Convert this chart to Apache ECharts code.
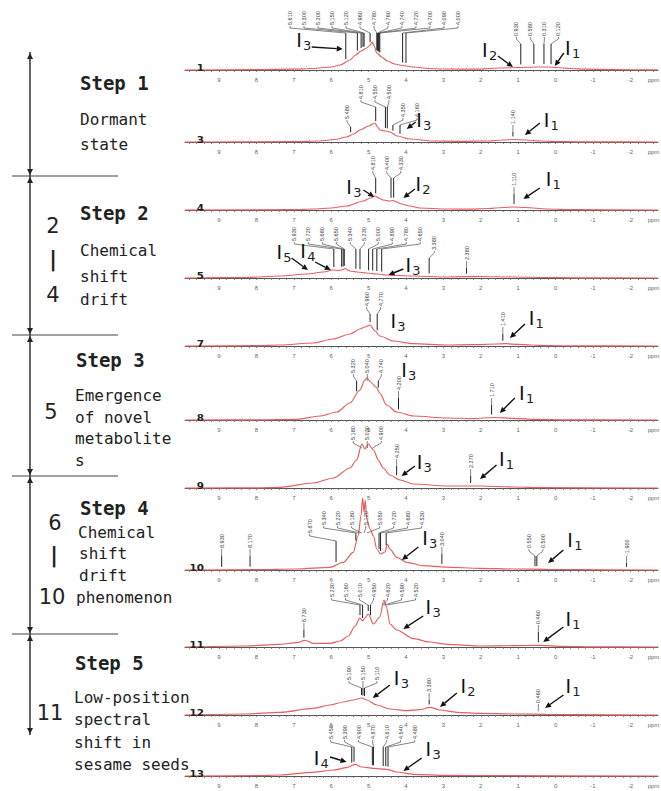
<!DOCTYPE html>
<html><head><meta charset="utf-8">
<script src="https://cdn.jsdelivr.net/npm/echarts@6/dist/echarts.min.js"></script>
<style>html,body{margin:0;padding:0;background:#fff;}#c{width:661px;height:791px;}</style>
</head><body><div id="c"></div>
<script>
// ---------------- DATA ----------------
const spectrumIds = ['1','3','4','5','7','8','9','10','11','12','13'];
const tickLabels = [9,8,7,6,5,4,3,2,1,0,-1,-2];

// curves: [ppm, intensity]
const curve1 = [[9.91,0],[8.0,0.3],[7.0,0.8],[6.5,1.5],[6.0,3],[5.76,5],[5.5,10],[5.35,15],[5.2,19],[5.05,22],[4.96,25],[4.91,28],[4.85,24],[4.78,17],[4.65,13],[4.5,9],[4.3,6],[4.1,4.5],[3.8,3],[3.4,1.5],[3.0,1],[2.0,0.8],[1.8,1.5],[1.5,2],[1.0,2.5],[0.5,3],[0.2,3],[0,2.5],[-0.4,1.5],[-0.8,0.8],[-1.5,0.3],[-2.74,0.2]];
const curve3 = [[9.91,0],[7,0.3],[6.3,1],[5.9,2.5],[5.59,5],[5.4,8],[5.23,12],[5.0,16],[4.83,19],[4.76,15],[4.7,12],[4.55,11],[4.43,10],[4.24,6],[3.9,3],[3.28,1],[2.5,0.6],[1.8,1],[1.4,2],[1.14,2.5],[0.8,2],[0.42,1],[-0.2,0.3],[-1,0.1],[-2.74,0]];
const curve4 = [[9.91,0],[7,0.3],[6.49,1],[6.0,2],[5.59,4],[5.14,9],[4.95,12],[4.83,14],[4.7,11.5],[4.61,10],[4.45,9],[4.34,9.5],[4.25,8],[4.12,6],[3.9,4],[3.63,2],[2.91,1],[2.3,0.8],[1.8,1.5],[1.4,2.5],[1.14,3],[0.8,2.5],[0.23,1],[-0.5,0.3],[-2.74,0]];
const curve5 = [[9.91,0],[8.26,0.5],[7.37,2],[6.65,4],[6.2,6],[5.95,8],[5.8,7.5],[5.68,8.5],[5.63,9.5],[5.5,7],[5.3,6],[5.05,5],[4.8,4],[4.52,3],[3.81,2],[2.91,1],[2.4,1.3],[2.02,1.5],[1.14,1],[0.3,0.5],[-0.5,0.2],[-2.74,0]];
const curve7 = [[9.91,0],[8,0.3],[7.37,1],[6.49,3],[5.95,7],[5.5,12],[5.23,17],[5.1,19],[4.96,21],[4.83,15],[4.7,10],[4.34,5],[3.8,2.3],[2.91,1],[2.2,1.3],[1.57,2],[1.35,2.3],[1.0,1.6],[0.68,1],[0.2,0.4],[-0.5,0.1],[-2.74,0]];
const curve8 = [[9.91,0],[8,0.2],[6.92,0.7],[6.3,4],[5.85,8],[5.5,17],[5.23,30],[5.1,40],[5.04,42],[4.95,38],[4.8,33],[4.7,27],[4.52,15],[4.25,8],[3.8,4],[2.91,2],[2.2,1.5],[1.67,2.5],[1.14,1.7],[0.5,0.7],[-0.3,0.2],[-2.74,0]];
const curve9 = [[9.91,0],[8,0.2],[7.37,0.7],[6.48,5],[5.94,10],[5.5,20],[5.32,28],[5.18,44],[5.10,39],[5.01,44],[4.87,38],[4.74,28],[4.61,20],[4.43,13],[4.16,8],[3.8,4],[2.91,2],[2.02,2],[1.13,1],[0.3,0.3],[-2.74,0]];
const curve10 = [[9.91,0],[8,0.3],[6.92,1],[6.03,2.7],[5.68,7.7],[5.41,17.7],[5.28,34],[5.2,55],[5.16,72],[5.12,58],[5.09,70],[5.05,51],[4.96,41],[4.87,34],[4.78,21],[4.68,16],[4.56,18],[4.50,26],[4.43,21],[4.25,12.7],[3.98,7.7],[3.54,4.3],[2.91,2.8],[2.02,1.7],[1.14,1],[0.24,0.7],[-0.5,0.3],[-2.74,0]];
const curve11 = [[9.91,0],[8.26,1],[7.37,2.7],[6.92,4.3],[6.7,6.7],[6.48,3.7],[6.03,3.7],[5.76,6],[5.54,11],[5.36,21],[5.23,29],[5.16,26],[5.1,29],[5.01,33],[4.87,23],[4.7,30],[4.59,47],[4.52,40],[4.43,23],[4.25,17],[3.8,8.3],[3.36,5],[2.91,2.7],[2.02,1],[1.14,1.3],[0.42,1.7],[-0.2,0.7],[-1,0.2],[-2.74,0]];
const curve12 = [[9.91,0],[8.26,1],[7.37,2.7],[6.48,6.7],[6.03,10],[5.68,13],[5.41,15],[5.18,17],[5.05,15],[4.78,10],[4.43,6],[3.98,4.3],[3.63,5.3],[3.36,7.7],[3.09,5],[2.64,2.7],[2.02,1.7],[1.14,1],[0.24,0.7],[-0.5,0.3],[-2.74,0]];
const curve13 = [[9.91,0],[8,0.3],[7.37,1],[6.48,3.7],[5.94,6],[5.59,8.3],[5.36,11.7],[5.18,9],[4.87,7.7],[4.52,6.7],[4.25,4],[3.8,1.7],[2.91,0.7],[1.5,0.3],[-2.74,0]];

// peak picks (ppm)
const peaks1 = [5.61,5.30,5.20,5.15,5.12,4.96,4.78,4.76,4.74,4.72,4.70,4.09,4.00,0.93,0.58,0.31,0.12];
const peaks3 = [5.48,4.81,4.55,4.50,4.35,4.16,1.14];
const peaks4 = [4.81,4.40,4.33,1.11];
const peaks5 = [5.93,5.72,5.68,5.65,5.34,5.23,5.00,4.89,4.78,4.65,3.38,2.38];
const peaks7 = [4.96,4.77,1.41];
const peaks8 = [5.32,5.04,4.74,4.20,1.71];
const peaks9 = [5.18,5.03,4.90,4.25,2.27];
const peaks10 = [8.93,8.17,5.87,5.34,5.22,5.18,5.12,5.05,4.72,4.68,4.53,3.04,0.55,0.50,-1.90];
const peaks11 = [6.73,5.23,5.16,5.01,4.95,4.62,4.59,4.52,0.46];
const peaks12 = [5.19,5.15,5.11,3.38,0.46];
const peaks13 = [5.45,5.39,4.90,4.87,4.61,4.54,4.48];

// callouts: [subscript, ppm, height, arrowFromPpm, arrowFromH, arrowToPpm, arrowToH]
const callouts1 = [['3',6.86,30,6.52,23,5.69,21],['2',1.89,20,1.54,14,1.14,3],['1',-0.33,22,-0.22,17,0.02,4]];
const callouts3 = [['3',3.65,22,3.74,20,3.98,13],['1',0.24,22,0.42,19,0.82,7]];
const callouts4 = [['3',5.52,23,5.14,20,4.85,13],['2',3.67,26,3.76,21,4.07,12],['1',0.19,31,0.42,22,0.86,11]];
const callouts5 = [['5',7.39,26,7.06,20,6.62,8],['4',6.75,27,6.43,16,6.01,8],['3',3.94,13,4.07,9,4.47,3]];
const callouts7 = [['3',4.34,25],['1',0.64,28,0.82,22,1.22,8]];
const callouts8 = [['3',4.05,50],['1',0.9,27,1.09,22,1.49,7]];
const callouts9 = [['3',3.64,26,3.76,22,4.12,12],['1',1.44,29,1.58,23,2.02,9]];
const callouts10 = [['3',3.49,32,3.67,23,4.11,10],['1',-0.39,30,-0.21,20,0.2,7]];
const callouts11 = [['3',3.4,40,3.54,31,4.07,18],['1',-0.34,28,-0.21,20,0.33,5]];
const callouts12 = [['3',4.25,37,4.43,30,4.89,17],['2',2.47,29,2.64,22,3.09,8],['1',-0.34,29,-0.21,20,0.28,7]];
const callouts13 = [['4',6.39,18,6.03,19,5.59,14],['3',3.4,27,3.58,18,4.07,5]];

const curves = [curve1,curve3,curve4,curve5,curve7,curve8,curve9,curve10,curve11,curve12,curve13];
const peaks = [peaks1,peaks3,peaks4,peaks5,peaks7,peaks8,peaks9,peaks10,peaks11,peaks12,peaks13];
const callouts = [callouts1,callouts3,callouts4,callouts5,callouts7,callouts8,callouts9,callouts10,callouts11,callouts12,callouts13];

// ---------------- LAYOUT ----------------
const axisY = [75,147,215,283,351,425,493,575,652,720,781];
// label rows: [ppmHigh, ppmLow, text bottom height]
const labelRows = [
  [[6,3.5,45],[1.5,-0.5,34]],
  [[5.6,5.3,23],[4.9,4.45,43],[4.4,4.0,25],[1.5,0.8,18]],
  [[5,4.2,40],[1.4,0.8,24]],
  [[6.1,4.5,37],[3.6,3.0,28],[2.6,2.0,18]],
  [[5.1,4.6,40],[1.6,1.2,20]],
  [[5.5,4.6,47],[4.4,4.0,30],[1.9,1.5,23]],
  [[5.3,4.8,48],[4.4,4.1,30],[2.5,2.0,20]],
  [[9.2,7.9,22],[6.0,5.6,37],[5.5,4.4,45],[3.2,2.9,24],[0.7,0.4,22],[-1.7,-2.1,15]],
  [[6.9,6.5,25],[5.4,4.4,50],[0.7,0.2,23]],
  [[5.4,5.0,35],[3.6,3.2,23],[0.7,0.2,12]],
  [[5.6,4.4,37]]
];
const XMIN = -2.74, XMAX = 9.91;
const RED = '#e5605f';
const minorTicks = [];
for (let v = 98; v >= -26; v -= 2) minorTicks.push(v / 10);
const labelVals = tickLabels.concat([-2.62]);

function interp(curve, p) {
  for (let k = 0; k < curve.length - 1; k++) {
    const a = curve[k], b = curve[k+1];
    if (p <= a[0] && p >= b[0]) {
      const t = (a[0] - p) / (a[0] - b[0]);
      return a[1] + t * (b[1] - a[1]);
    }
  }
  return 0;
}

function computeLayout(api, curve, pk, rows) {
  const items = pk.map((p, i) => {
    const h = interp(curve, p);
    let tb = h + 12;
    for (const r of rows) { if (p <= r[0] && p >= r[1]) { tb = r[2]; break; } }
    const pc = api.coord([p, h]);
    const pt = api.coord([p, tb]);
    return {i, p, px: pc[0], yc: pc[1], yT: pt[1]};
  });
  const sorted = items.slice().sort((a, b) => a.px - b.px);
  const S = 14;
  let clusters = sorted.map(it => ({members: [it], sum: it.px}));
  const start = c => c.sum / c.members.length - (c.members.length - 1) * S / 2;
  let merged = true;
  while (merged) {
    merged = false;
    for (let k = 0; k < clusters.length - 1; k++) {
      const a = clusters[k], b = clusters[k+1];
      const aEnd = start(a) + (a.members.length - 1) * S;
      if (start(b) - aEnd < S) {
        clusters.splice(k, 2, {members: a.members.concat(b.members), sum: a.sum + b.sum});
        merged = true; break;
      }
    }
  }
  const out = [];
  clusters.forEach(c => { const s = start(c); c.members.forEach((m, j) => { m.lx = s + j * S; out[m.i] = m; }); });
  return out;
}

const grids = [], xAxes = [], yAxes = [], series = [];
spectrumIds.forEach((id, si) => {
  const bottomY = axisY[si];
  const H = Math.min(95, bottomY - 2);
  grids.push({left: 185, width: 473, top: bottomY - H, height: H, containLabel: false, outerBoundsMode: 'none'});
  xAxes.push({
    type: 'value', gridIndex: si, min: XMIN, max: XMAX, inverse: true,
    axisLine: {show: true, lineStyle: {color: '#555', width: 1}},
    axisTick: {show: true, customValues: minorTicks, length: 2, lineStyle: {color: '#666', width: 0.8}},
    axisLabel: {show: true, customValues: labelVals, fontSize: 6, color: '#666', margin: 2, fontFamily: 'Liberation Sans',
      formatter: v => (Math.abs(v + 2.62) < 0.01 ? 'ppm' : String(Math.round(v)))},
    splitLine: {show: false}
  });
  yAxes.push({type: 'value', gridIndex: si, min: -5, max: H - 5, show: false});

  series.push({
    type: 'line', xAxisIndex: si, yAxisIndex: si, data: curves[si], showSymbol: false,
    smooth: 0.3, smoothMonotone: 'x', silent: true, z: 3,
    lineStyle: {color: RED, width: 1.2}
  });

  let cache = null;
  const curve = curves[si], pk = peaks[si], rows = labelRows[si];
  series.push({
    type: 'custom', xAxisIndex: si, yAxisIndex: si, clip: false, silent: true, z: 5,
    data: pk.map(p => [p, 0]),
    renderItem(params, api) {
      if (params.dataIndex === 0 || !cache) cache = computeLayout(api, curve, pk, rows);
      const L = cache[params.dataIndex];
      const yT = L.yT, lx = L.lx, px = L.px;
      const ch = [
        {type: 'text', x: lx, y: yT, rotation: Math.PI / 2,
          style: {text: L.p.toFixed(3), fill: '#3a3a3a', fontSize: 5.5, fontFamily: 'Liberation Sans', align: 'left', verticalAlign: 'middle'}},
        {type: 'polyline', shape: {points: [[lx, yT + 1], [lx, yT + 3], [px, yT + 8]]}, style: {stroke: '#666', lineWidth: 0.8, fill: null}}
      ];
      if (L.yc - 3 > yT + 8) ch.push({type: 'line', shape: {x1: px, y1: yT + 8, x2: px, y2: L.yc - 3}, style: {stroke: '#222', lineWidth: 1}});
      return {type: 'group', children: ch};
    }
  });

  const co = callouts[si];
  series.push({
    type: 'custom', xAxisIndex: si, yAxisIndex: si, clip: false, silent: true, z: 6,
    data: co.map(c => [c[1], c[2]]),
    renderItem(params, api) {
      const c = co[params.dataIndex];
      const P = api.coord([c[1], c[2]]);
      const ch = [
        {type: 'text', x: P[0], y: P[1], style: {text: 'I', fontSize: 19, fontFamily: 'DejaVu Sans', fill: '#111', align: 'center', verticalAlign: 'middle'}},
        {type: 'text', x: P[0] + 4, y: P[1] - 1, style: {text: c[0], fontSize: 13, fontFamily: 'DejaVu Sans', fill: '#222', align: 'left', verticalAlign: 'top'}}
      ];
      if (c.length > 3) {
        const A = api.coord([c[3], c[4]]), B = api.coord([c[5], c[6]]);
        const dx = B[0] - A[0], dy = B[1] - A[1], len = Math.hypot(dx, dy) || 1;
        const ux = dx / len, uy = dy / len, hl = 6, hw = 2.8;
        const bx = B[0] - ux * hl, by = B[1] - uy * hl;
        ch.push({type: 'line', shape: {x1: A[0], y1: A[1], x2: bx, y2: by}, style: {stroke: '#111', lineWidth: 1.4}});
        ch.push({type: 'polygon', shape: {points: [[B[0], B[1]], [bx - uy * hw, by + ux * hw], [bx + uy * hw, by - ux * hw]]}, style: {fill: '#111'}});
      }
      return {type: 'group', children: ch};
    }
  });

  series.push({
    type: 'custom', xAxisIndex: si, yAxisIndex: si, clip: false, silent: true, z: 6,
    data: [[9.4, 0]],
    renderItem(params, api) {
      const P = api.coord([9.4, 0]);
      return {type: 'text', x: P[0], y: P[1] + 2, scaleX: 1.3,
        style: {text: id, fontSize: 8, fontWeight: 'bold', fontFamily: 'DejaVu Sans', fill: '#222', align: 'right', verticalAlign: 'bottom'}};
    }
  });
});

// ---------------- LEFT PANEL ----------------
const MONO = '"DejaVu Sans Mono", "Liberation Mono", monospace';
const graphic = [];
const bounds = [52, 176, 335, 476, 634, 735];
graphic.push({type: 'line', shape: {x1: 30, y1: bounds[0], x2: 30, y2: bounds[5]}, style: {stroke: '#333', lineWidth: 1.5}});
[176, 335, 476, 634].forEach(y => graphic.push({type: 'line', shape: {x1: 12, y1: y, x2: 118, y2: y}, style: {stroke: '#444', lineWidth: 1.2}}));
for (let k = 0; k < 5; k++) {
  const t = bounds[k], b = bounds[k+1];
  graphic.push({type: 'polygon', shape: {points: [[30, t + 1], [27, t + 7], [33, t + 7]]}, style: {fill: '#222'}});
  graphic.push({type: 'polygon', shape: {points: [[30, b - 1], [27, b - 7], [33, b - 7]]}, style: {fill: '#222'}});
}
const stepTexts = [
  ['Step 1', 80, 83, true], ['Dormant', 80, 119], ['state', 80, 144],
  ['Step 2', 80, 213, true], ['Chemical', 80, 250], ['shift', 80, 276], ['drift', 80, 299],
  ['Step 3', 76, 360, true], ['Emergence', 75, 395], ['of novel', 75, 417], ['metabolite', 75, 438], ['s', 75, 460],
  ['Step 4', 80, 508, true], ['Chemical', 78, 532], ['shift', 79, 553], ['drift', 79, 575], ['phenomenon', 76, 597],
  ['Step 5', 75, 663, true], ['Low-position', 74, 697], ['spectral', 74, 719], ['shift in', 74, 742], ['sesame seeds', 74, 764]
];
stepTexts.forEach(t => graphic.push({type: 'text', x: t[1], y: t[2],
  style: {text: t[0], fontSize: t[3] ? 19 : 16, fontWeight: t[3] ? 'bold' : 'normal', fontFamily: MONO, fill: '#222', align: 'left', verticalAlign: 'middle'}}));
const rangeTexts = [['2', 53, 226], ['|', 53, 259], ['4', 53, 295], ['5', 51, 412], ['6', 55, 523], ['|', 54, 555], ['10', 52, 597], ['11', 50, 713]];
rangeTexts.forEach(t => graphic.push({type: 'text', x: t[1], y: t[2],
  style: {text: t[0], fontSize: 21, fontWeight: t[0] === '|' ? 'bold' : 'normal', fontFamily: 'DejaVu Sans', fill: '#222', align: 'center', verticalAlign: 'middle'}}));

const chart = echarts.init(document.getElementById('c'), null, {renderer: 'svg'});
chart.setOption({
  animation: false,
  backgroundColor: '#fff',
  grid: grids, xAxis: xAxes, yAxis: yAxes, series: series, graphic: graphic
});
</script></body></html>
